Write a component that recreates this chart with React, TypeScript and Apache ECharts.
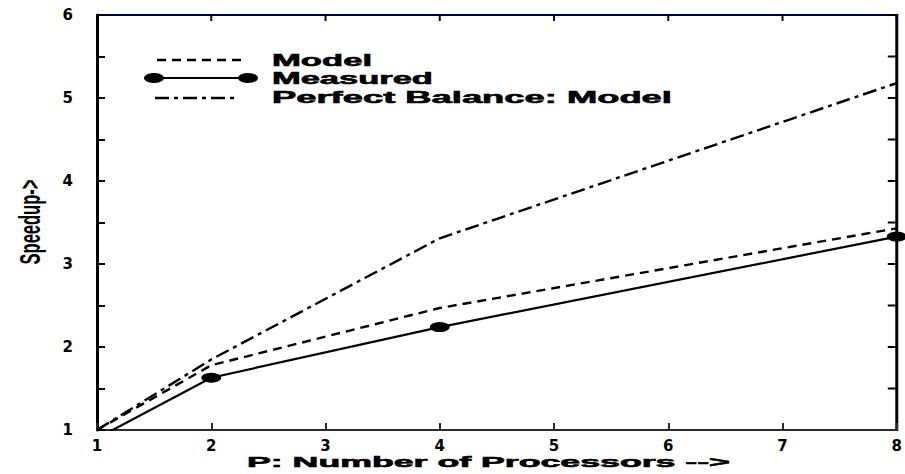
import React, { useEffect, useRef } from "react";
import * as echarts from "echarts";

// Data
const processors = [1, 2, 4, 8];
const modelSpeedup = [1, 1.78, 2.47, 3.43];
const measuredSpeedup = [0.9, 1.63, 2.24, 3.33];
const perfectSpeedup = [1, 1.85, 3.31, 5.18];
const seriesNames = ["Model", "Measured", "Perfect Balance: Model"];
const xTickValues = [1, 2, 3, 4, 5, 6, 7, 8];
const yTickValues = [1, 1.5, 2, 2.5, 3, 3.5, 4, 4.5, 5, 5.5, 6];
const xAxisName = "P: Number of Processors -->";
const yAxisName = "Speedup->";

const FF = "'Liberation Sans', Arial, sans-serif";

function measureText(text: string, font: string): number {
  const ctx = document.createElement("canvas").getContext("2d");
  if (!ctx) return text.length * 8;
  ctx.font = font;
  return ctx.measureText(text).width;
}

export default function App() {
  const ref = useRef<HTMLDivElement>(null);

  useEffect(() => {
    document.body.style.margin = "0";
    if (!ref.current) return;
    const chart = echarts.init(ref.current, null, { renderer: "svg" });

    const fit = (text: string, size: number, target: number) =>
      target / measureText(text, `bold ${size}px ${FF}`);

    const toPairs = (ys: number[]) => processors.map((p, i) => [p, ys[i]]);

    const legendFont = 16;
    const legendText = (text: string, y: number, width: number) => ({
      type: "text",
      x: 272,
      y,
      scaleX: fit(text, legendFont, width),
      style: {
        text,
        fill: "#000",
        stroke: "#000",
        lineWidth: 0.6,
        font: `bold ${legendFont}px ${FF}`,
        textAlign: "left",
        textVerticalAlign: "middle",
      },
    });

    const labelStyle = {
      color: "#000",
      fontFamily: "'DejaVu Sans', sans-serif",
      fontWeight: "bold",
      fontSize: 15,
    };
    const intOnly = (v: number) => (Math.abs(v - Math.round(v)) < 1e-6 ? String(Math.round(v)) : "");

    const G = { left: 97, right: 3, top: 15, bottom: 44 };

    chart.setOption({
      animation: false,
      grid: { ...G },
      xAxis: {
        type: "value",
        min: 1,
        max: 8,
        interval: 1,
        axisLine: { show: true, lineStyle: { color: "#2b2b2b", width: 2 } },
        splitLine: { show: false },
        axisTick: { show: true, inside: true, length: 7, lineStyle: { color: "#2b2b2b", width: 2 } },
        axisLabel: { ...labelStyle, margin: 8 },
      },
      yAxis: {
        type: "value",
        min: 1,
        max: 6,
        interval: 0.5,
        axisLine: { show: true, lineStyle: { color: "#000", width: 3 } },
        splitLine: { show: false },
        axisTick: { show: true, inside: true, length: 8, lineStyle: { color: "#000", width: 2 } },
        axisLabel: { ...labelStyle, margin: 24, formatter: intOnly },
      },
      series: [
        {
          name: seriesNames[0],
          type: "line",
          data: toPairs(modelSpeedup),
          symbol: "none",
          lineStyle: { color: "#000", width: 2.4, type: [9, 6] },
        },
        {
          name: seriesNames[1],
          type: "line",
          data: toPairs(measuredSpeedup),
          symbol: "circle",
          symbolSize: [20, 10],
          itemStyle: { color: "#000" },
          lineStyle: { color: "#000", width: 2.2 },
        },
        {
          name: seriesNames[2],
          type: "line",
          data: toPairs(perfectSpeedup),
          symbol: "none",
          lineStyle: { color: "#000", width: 2.4, type: [14, 5, 4, 5] },
        },
      ],
    });

    const W = 905;
    const H = 474;
    const fx = (v: number) => G.left + ((v - 1) / 7) * (W - G.left - G.right);
    const fy = (v: number) => H - G.bottom - ((v - 1) / 5) * (H - G.top - G.bottom);
    const px = (v: number) => {
      const r = chart.convertToPixel({ xAxisIndex: 0 }, v) as any;
      const n = Array.isArray(r) ? r[0] : r;
      return typeof n === "number" && isFinite(n) ? n : fx(v);
    };
    const py = (v: number) => {
      const r = chart.convertToPixel({ yAxisIndex: 0 }, v) as any;
      const n = Array.isArray(r) ? r[1] : r;
      return typeof n === "number" && isFinite(n) ? n : fy(v);
    };
    const xL = px(xTickValues[0]);
    const xR = px(xTickValues[xTickValues.length - 1]);
    const yB = py(yTickValues[0]);
    const yT = py(yTickValues[yTickValues.length - 1]);
    const ln = (x1: number, y1: number, x2: number, y2: number, w: number, c: string) => ({
      type: "line",
      shape: { x1, y1, x2, y2 },
      style: { stroke: c, lineWidth: w },
    });

    const TOP = "#00003a";
    const RIGHT = "#000";
    const frame: any[] = [ln(xL, yT, xR, yT, 2, TOP), ln(xR, yT - 1, xR, yB + 1, 3, RIGHT)];
    xTickValues.forEach((v) => {
      const x = px(v);
      frame.push(ln(x, yT, x, yT + 6, 2, TOP));
    });
    yTickValues.forEach((v) => {
      const y = py(v);
      frame.push(ln(xR, y, xR - 9, y, 2, RIGHT));
    });

    chart.setOption({
      graphic: [
        ...frame,
        {
          type: "line",
          shape: { x1: 157, y1: 60, x2: 247, y2: 60 },
          style: { stroke: "#000", lineWidth: 2.4, lineDash: [9, 6] },
        },
        {
          type: "line",
          shape: { x1: 152, y1: 78, x2: 250, y2: 78 },
          style: { stroke: "#000", lineWidth: 2.2 },
        },
        { type: "ellipse", shape: { cx: 154, cy: 78, rx: 10, ry: 5 }, style: { fill: "#000" } },
        { type: "ellipse", shape: { cx: 248, cy: 78, rx: 10, ry: 5 }, style: { fill: "#000" } },
        {
          type: "line",
          shape: { x1: 155, y1: 98, x2: 237, y2: 98 },
          style: { stroke: "#000", lineWidth: 2.4, lineDash: [14, 5, 4, 5] },
        },
        legendText(seriesNames[0], 61, 100),
        legendText(seriesNames[1], 79, 161),
        legendText(seriesNames[2], 98, 400),
        {
          type: "text",
          x: 247,
          y: 462,
          scaleX: fit(xAxisName, 15, 483),
          style: {
            text: xAxisName,
            fill: "#000",
            stroke: "#000",
            lineWidth: 0.6,
            font: `bold 15px ${FF}`,
            textAlign: "left",
            textVerticalAlign: "middle",
          },
        },
        {
          type: "text",
          x: 30,
          y: 222,
          rotation: Math.PI / 2,
          scaleX: fit(yAxisName, 14, 85),
          scaleY: 2.1,
          style: {
            text: yAxisName,
            fill: "#000",
            font: `bold 14px ${FF}`,
            textAlign: "center",
            textVerticalAlign: "middle",
          },
        },
      ],
    });

    return () => chart.dispose();
  }, []);

  return <div ref={ref} style={{ width: 905, height: 474 }} />;
}
